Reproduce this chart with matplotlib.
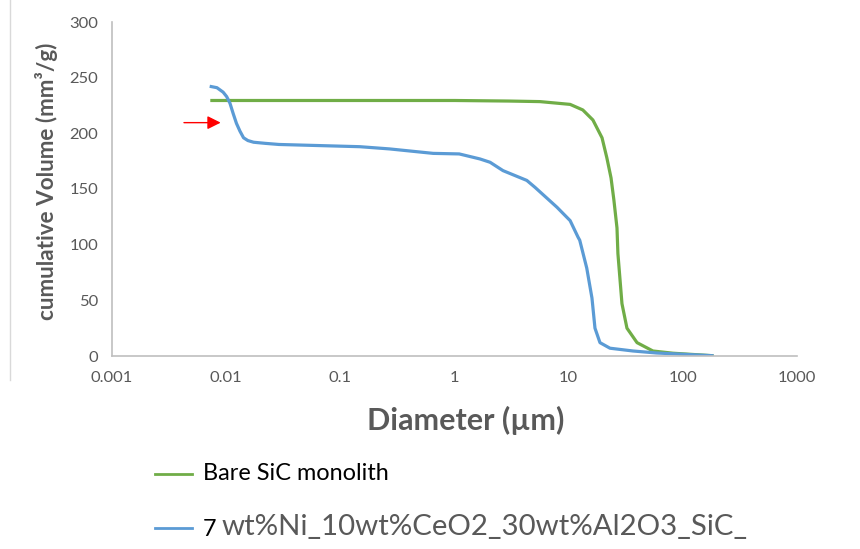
import matplotlib.pyplot as plt
from matplotlib.lines import Line2D

# diameter (um) / cumulative volume (mm3/g)
bare_d = [0.0075, 0.05, 0.5, 1.0, 3.0, 5.6, 10.3, 13.3, 16.3, 19.6, 21.6, 23.5, 24.9, 26.5,
          27.0, 29.3, 32.4, 39.7, 54.7, 82, 180]
bare_v = [229.5, 229.5, 229.5, 229.5, 229, 228.5, 226, 221, 212, 196, 178, 160, 140, 115,
          92, 47, 25, 12, 4.5, 2.5, 0.3]

cat_d = [0.0074, 0.0083, 0.0094, 0.0101, 0.0108, 0.0115, 0.0123, 0.0132, 0.0142, 0.0155,
         0.0174, 0.022, 0.029, 0.148, 0.27, 0.65, 1.1, 1.67, 2.05, 2.66, 4.3, 5.07, 7.9,
         10.3, 12.1, 12.5, 14.4, 16.0, 17.0, 18.8, 23, 36.6, 59, 180]
cat_v = [242, 241, 237, 233, 227, 218, 209, 202, 196, 193.5,
         192, 191, 190, 188, 186, 182, 181.5, 177, 174, 166.5, 157.7, 151.5, 133.6,
         121.6, 106.6, 104, 79, 52, 25, 12, 7, 4.5, 2.7, 0.3]

GREEN = "#70ad47"
BLUE = "#5b9bd5"
GRAY = "#595959"
AXIS = "#bfbfbf"

plt.rcParams["font.family"] = ["Lato", "DejaVu Sans"]

fig = plt.figure(figsize=(8.6, 5.49), dpi=100)
W, H = 860, 549
ax = fig.add_axes([112 / W, 1 - 356 / H, (797 - 112) / W, (356 - 22) / H])

ax.plot(bare_d, bare_v, color=GREEN, lw=2.3, solid_joinstyle="round")
ax.plot(cat_d, cat_v, color=BLUE, lw=2.3, solid_joinstyle="round")

ax.set_xscale("log")
ax.set_xlim(0.001, 1000)
ax.set_ylim(0, 300)
ax.set_xticks([0.001, 0.01, 0.1, 1, 10, 100, 1000])
ax.set_xticklabels(["0.001", "0.01", "0.1", "1", "10", "100", "1000"])
ax.set_yticks(range(0, 301, 50))
ax.minorticks_off()
ax.tick_params(length=0, labelsize=10, colors=GRAY)
ax.tick_params(axis="x", pad=11)
ax.tick_params(axis="y", pad=10)

for s in ["top", "right"]:
    ax.spines[s].set_visible(False)
for s in ["left", "bottom"]:
    ax.spines[s].set_color(AXIS)
    ax.spines[s].set_linewidth(1.2)


def fx(px):
    return px / W


def fy(py):
    return 1 - py / H


renderer = fig.canvas.get_renderer()


def fit(t, target, vertical=False):
    # scale font so the text spans the width measured on the original
    bb = t.get_window_extent(renderer)
    w = bb.height if vertical else bb.width
    t.set_fontsize(t.get_fontsize() * target / w)


# tick labels: "0.001" is about 42 px wide in the original
fig.canvas.draw()
lab = ax.get_xticklabels()[0]
size = 10 * 42 / lab.get_window_extent(renderer).width
ax.tick_params(labelsize=size)

ylab = fig.text(fx(47), fy(181), "cumulative Volume (mm³/g)", rotation=90, fontweight="bold",
                color=GRAY, ha="center", va="center", fontsize=12)
fit(ylab, 277, vertical=True)
xlab = fig.text(fx(466), fy(420), "Diameter (µm)", fontweight="bold", color=GRAY,
                ha="center", va="center", fontsize=18)
fit(xlab, 197)

# red arrow pointing at the small-pore step
ax.annotate("", xy=(0.00895, 209.6), xytext=(0.00427, 209.6),
            arrowprops=dict(arrowstyle="-|>,head_length=0.8,head_width=0.4",
                            color="red", lw=1, mutation_scale=10, shrinkA=0, shrinkB=0))

# manual legend below the plot
fig.add_artist(Line2D([fx(155), fx(192)], [fy(474), fy(474)], color=GREEN, lw=2))
fig.add_artist(Line2D([fx(155), fx(192)], [fy(528), fy(528)], color=BLUE, lw=2))
t1 = fig.text(fx(203), fy(474), "Bare SiC monolith", fontsize=14, color="black", va="center")
fit(t1, 186)
t2 = fig.text(fx(216), fy(529), "7", fontsize=t1.get_fontsize(), color="black",
              ha="right", va="center")
t3 = fig.text(fx(222), fy(527), "wt%Ni_10wt%CeO2_30wt%Al2O3_SiC_", fontsize=18, color=GRAY,
              va="center")
fit(t3, 526)

# thin frame line at the left edge
fig.add_artist(Line2D([fx(10), fx(10)], [fy(0), fy(380)], color="#d9d9d9", lw=1))

fig.savefig("out.png", dpi=100)
